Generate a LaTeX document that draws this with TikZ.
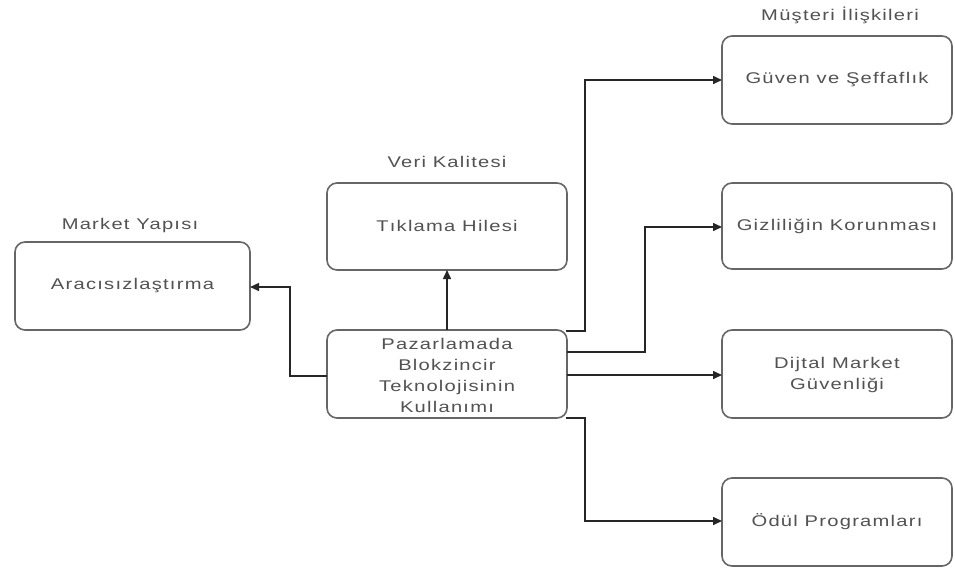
\documentclass[tikz,border=0pt]{standalone}
\usepackage{fontspec}
\setmainfont[FakeStretch=1.3,LetterSpace=8]{Liberation Sans}
\usetikzlibrary{arrows.meta}
\begin{document}
\begin{tikzpicture}[x=1pt,y=-1pt,
  box/.style={draw=black!60, line width=1.6pt, rounded corners=10pt, fill=white},
  txt/.style={text=black!68, font=\fontsize{15.5}{21}\selectfont, align=center, inner sep=0pt},
  conn/.style={draw=black!85, line width=1.5pt, -{Triangle[length=9pt,width=8pt]}},
  plain/.style={draw=black!85, line width=1.5pt}]
\useasboundingbox (0,0) rectangle (955,576);
% boxes
\draw[box] (15,242) rectangle (250,330);
\node[txt] (ara) at (132.5,286) {Aracısızlaştırma};
\coordinate (araE) at (250,287);
\node[txt] (l1) at (130,225) {Market Yapısı};

\draw[box] (327,183) rectangle (567,270);
\node[txt] (tik) at (447,226) {Tıklama Hilesi};
\coordinate (tikS) at (447,270);
\node[txt] (l2) at (447,162) {Veri Kalitesi};

\draw[box] (327,330) rectangle (567,418);
\node[txt] (cen) at (447,375) {Pazarlamada\\Blokzincir\\Teknolojisinin\\Kullanımı};
\coordinate (cenN) at (447,330);
\coordinate (cenW) at (327,376);
\coordinate (cenNE) at (566,331);
\coordinate (cenE1) at (567,352);
\coordinate (cenE2) at (567,375);
\coordinate (cenSE) at (566,418);

\draw[box] (722,36) rectangle (952,124);
\node[txt] (guv) at (837,80) {Güven ve Şeffaflık};
\coordinate (guvW) at (722,80);
\node[txt] (l3) at (840,15) {Müşteri İlişkileri};

\draw[box] (722,183) rectangle (952,269);
\node[txt] (giz) at (837,226) {Gizliliğin Korunması};
\coordinate (gizW) at (722,227);

\draw[box] (722,330) rectangle (952,418);
\node[txt] (dij) at (837,375) {Dijtal Market\\Güvenliği};
\coordinate (dijW) at (722,375);

\draw[box] (722,478) rectangle (952,566);
\node[txt] (odu) at (837,522) {Ödül Programları};
\coordinate (oduW) at (722,521);

% connectors
\draw[conn] (cenW) -- (290,376) |- (araE);
\draw[conn] (cenN) -- (tikS);
\draw[conn] (cenNE) -- (585,331) |- (guvW);
\draw[conn] (cenE1) -- (645,352) |- (gizW);
\draw[conn] (cenE2) -- (dijW);
\draw[conn] (cenSE) -- (585,418) |- (oduW);
\end{tikzpicture}
\end{document}
